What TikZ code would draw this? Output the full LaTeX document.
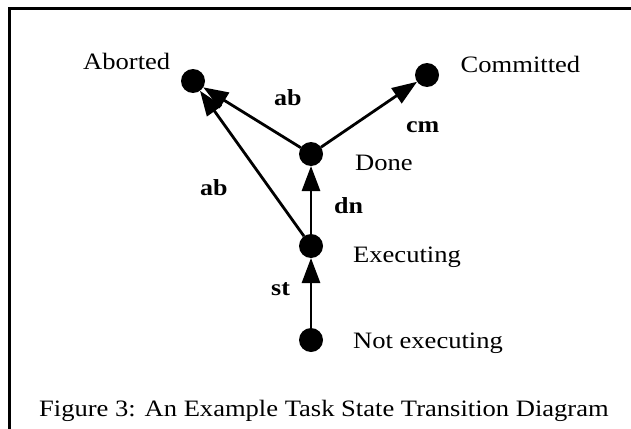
\documentclass[tikz,border=0pt]{standalone}
\usepackage{fontspec}
\setmainfont{Liberation Serif}[FakeStretch=1.13]
\usetikzlibrary{arrows.meta}
\begin{document}
\begin{tikzpicture}[x=1pt,y=-1pt,
  state/.style={circle,fill=black,draw=none,minimum size=24pt,inner sep=0pt,outer sep=0pt},
  lbl/.style={anchor=base west,inner sep=0pt,font=\fontsize{23.5}{28}\selectfont},
  evt/.style={anchor=base west,inner sep=0pt,font=\fontsize{23}{27}\selectfont\bfseries},
  trans/.style={line width=2.8pt,-{Triangle[length=25pt,width=18pt]}},
  frame/.style={line width=2.8pt}]
\useasboundingbox (0,0) rectangle (631,428);
\draw[frame] (9.7,440) -- (9.7,8.3) -- (640,8.3);
% states
\node[state] (ab) at (193,81) {};
\node[state] (cm) at (427,75) {};
\node[state] (dn) at (311,154) {};
\node[state] (ex) at (311,246) {};
\node[state] (ne) at (311,340) {};
% state names
\node[lbl] (tab) at (83,69.5) {Aborted};
\node[lbl] (tcm) at (460.5,72) {Committed};
\node[lbl] (tdn) at (355,170) {Done};
\node[lbl] (tex) at (353,262) {Executing};
\node[lbl] (tne) at (353,348) {Not executing};
% transitions
\draw[trans] (ne) -- (ex);
\draw[trans] (ex) -- (dn);
\draw[trans] (dn) -- (cm);
\draw[trans] (ex) -- (ab);
\draw[trans] (dn) -- (ab);
% event labels
\node[evt] (eab1) at (274,105) {ab};
\node[evt] (ecm) at (406,132) {cm};
\node[evt] (eab2) at (200,195) {ab};
\node[evt] (edn) at (334,213) {dn};
\node[evt] (est) at (271,295) {st};
% caption
\node[lbl] (cap) at (39,416) {Figure 3: An Example Task State Transition Diagram};
\end{tikzpicture}
\end{document}
